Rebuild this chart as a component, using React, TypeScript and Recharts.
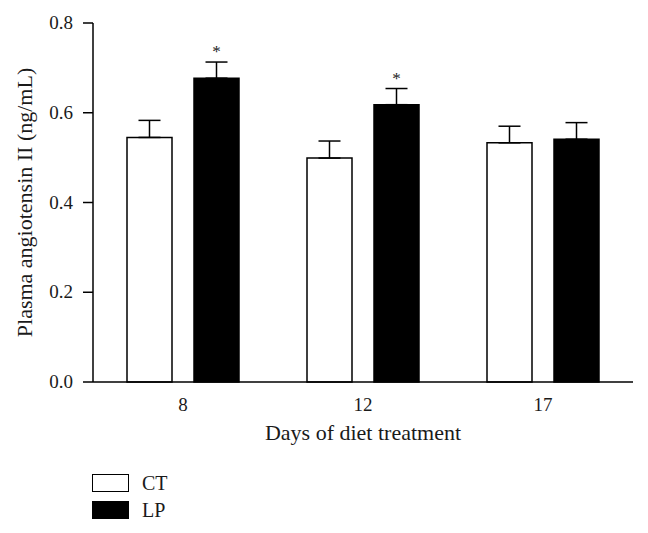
import { BarChart, Bar, XAxis, YAxis, ErrorBar, Legend, LabelList } from "recharts";

const days = ["8", "12", "17"];
const ctValues = [0.545, 0.499, 0.533];
const ctErrors = [0.038, 0.038, 0.037];
const lpValues = [0.677, 0.618, 0.541];
const lpErrors = [0.036, 0.036, 0.037];
const lpSignificance = ["*", "*", ""];
const yTicks = [0, 0.2, 0.4, 0.6, 0.8];

const data = days.map((day, i) => ({
  day,
  CT: ctValues[i],
  ctErr: [0, ctErrors[i]],
  LP: lpValues[i],
  lpErr: [0, lpErrors[i]],
  sig: lpSignificance[i],
}));

const FONT = "'Liberation Serif', 'DejaVu Serif', serif";
const INK = "#1a1a1a";

function renderXTick({ x, y, payload }: any) {
  return (
    <text x={x} y={y + 29} textAnchor="middle" fontSize={19} fontFamily={FONT} fill={INK}>
      {payload.value}
    </text>
  );
}

function renderYTick({ x, y, payload }: any) {
  return (
    <text x={x} y={y + 6} textAnchor="end" fontSize={19} fontFamily={FONT} fill={INK}>
      {Number(payload.value).toFixed(1)}
    </text>
  );
}

function Star(props: any) {
  const { x, y, width, height, value, index } = props;
  if (!value) return null;
  const errPx = (height * lpErrors[index]) / lpValues[index];
  return (
    <text
      x={x + width / 2}
      y={y - errPx - 5}
      textAnchor="middle"
      fontSize={17}
      fontFamily={FONT}
      fill={INK}
    >
      {value}
    </text>
  );
}

function LegendBox({ payload }: any) {
  return (
    <div style={{ fontFamily: FONT, fontSize: 20, color: INK, lineHeight: "20px" }}>
      {(payload || []).map((p: any) => (
        <div key={p.value} style={{ display: "flex", alignItems: "center", height: 27 }}>
          <span
            style={{
              display: "inline-block",
              width: 35,
              height: 16,
              background: p.value === "LP" ? "#000" : "#fff",
              border: "1.5px solid #000",
              marginRight: 13,
            }}
          />
          <span>{p.value}</span>
        </div>
      ))}
    </div>
  );
}

export default function App() {
  return (
    <div
      style={{
        position: "absolute",
        left: 0,
        top: 0,
        width: 648,
        height: 533,
        background: "#fff",
        fontFamily: FONT,
      }}
    >
      <BarChart
        width={648}
        height={533}
        data={data}
        margin={{ top: 23, right: 15, left: 0, bottom: 89 }}
        barSize={45}
        barGap={22}
      >
        <XAxis
          dataKey="day"
          tickLine={false}
          tickSize={0}
          tickMargin={0}
          height={62}
          axisLine={{ stroke: "#000", strokeWidth: 1.5 }}
          tick={renderXTick}
          label={{
            value: "Days of diet treatment",
            position: "insideBottom",
            offset: 4,
            fill: INK,
            fontSize: 22,
            fontFamily: FONT,
          }}
        />
        <YAxis
          width={93}
          domain={[0, 0.8]}
          ticks={yTicks}
          tickSize={10}
          tickMargin={10}
          fontSize={19}
          fontFamily={FONT}
          axisLine={{ stroke: "#000", strokeWidth: 1.5 }}
          tickLine={{ stroke: "#000", strokeWidth: 1.5 }}
          tick={renderYTick}
          label={{
            value: "Plasma angiotensin II (ng/mL)",
            angle: -90,
            position: "center",
            dx: -22,
            fill: INK,
            fontSize: 22,
            fontFamily: FONT,
          }}
        />
        <Legend
          layout="vertical"
          align="center"
          verticalAlign="middle"
          content={<LegendBox />}
          wrapperStyle={{ position: "absolute", left: 92, top: 469, width: 120 }}
        />
        <Bar dataKey="CT" name="CT" fill="#fff" stroke="#000" strokeWidth={1.5} isAnimationActive={false}>
          <ErrorBar dataKey="ctErr" direction="y" width={11} stroke="#000" strokeWidth={1.5} />
        </Bar>
        <Bar dataKey="LP" name="LP" fill="#000" stroke="#000" strokeWidth={1.5} isAnimationActive={false}>
          <ErrorBar dataKey="lpErr" direction="y" width={11} stroke="#000" strokeWidth={1.5} />
          <LabelList dataKey="sig" content={<Star />} />
        </Bar>
      </BarChart>
    </div>
  );
}
